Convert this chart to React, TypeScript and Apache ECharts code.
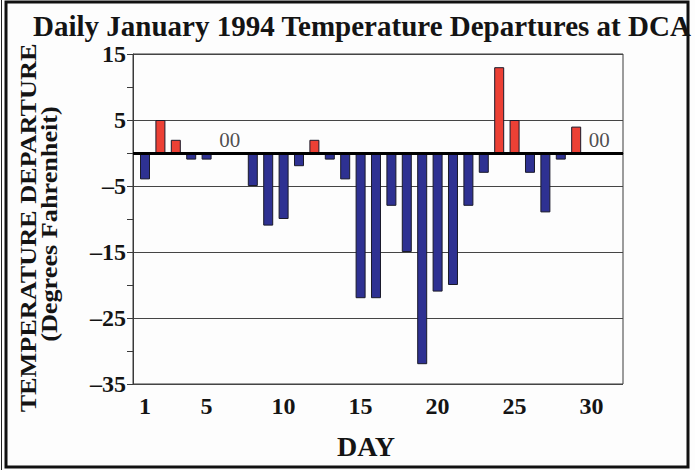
import React, { useEffect, useRef } from "react";
import * as echarts from "echarts";

const titleText = "Daily January 1994 Temperature Departures at DCA";
const yNameLine1 = "TEMPERATURE DEPARTURE";
const yNameLine2 = "(Degrees Fahrenheit)";
const xName = "DAY";

const days = [1,2,3,4,5,6,7,8,9,10,11,12,13,14,15,16,17,18,19,20,21,22,23,24,25,26,27,28,29,30,31];
const departures = [-4,5,2,-1,-1,0,0,-5,-11,-10,-2,2,-1,-4,-22,-22,-8,-15,-32,-21,-20,-8,-3,13,5,-3,-9,-1,4,0,0];
const dayTickLabels = [1,5,10,15,20,25,30];
const zeroPairPositions = [6.5, 30.5];
const zeroPairText = "00";

const SERIF = "'Liberation Serif', 'DejaVu Serif', serif";

export default function App() {
  const ref = useRef<HTMLDivElement>(null);
  useEffect(() => {
    if (!ref.current) return;
    const chart = echarts.init(ref.current, null, { renderer: "svg" });
    const barData = days.map((d, i) => [d, departures[i]]);
    chart.setOption({
      animation: false,
      backgroundColor: "#fdfdfd",
      title: {
        text: titleText,
        left: 28,
        top: 6,
        textStyle: { fontFamily: SERIF, fontWeight: "bold", fontSize: 29, color: "#141414" },
      },
      grid: {
        left: 133,
        right: 72,
        top: 54,
        bottom: 86,
        show: true,
        borderColor: "#3a3a3a",
        borderWidth: 1,
        backgroundColor: "transparent",
      },
      xAxis: {
        type: "value",
        min: 0.22,
        max: 32.04,
        axisLine: { show: true, lineStyle: { color: "#3a3a3a" } },
        axisTick: { show: false },
        splitLine: { show: false },
        axisLabel: {
          customValues: dayTickLabels,
          margin: 10,
          fontFamily: SERIF,
          fontWeight: "bold",
          fontSize: 24,
          color: "#141414",
        },
      },
      yAxis: {
        type: "value",
        min: -35,
        max: 15,
        interval: 10,
        axisLine: { show: true, lineStyle: { color: "#3a3a3a" } },
        axisTick: { show: true, length: 6, lineStyle: { color: "#3a3a3a" } },
        minorTick: { show: true, splitNumber: 2, length: 6, lineStyle: { color: "#3a3a3a" } },
        splitLine: { show: true, lineStyle: { color: "#454545", width: 1 } },
        axisLabel: {
          margin: 7,
          fontFamily: SERIF,
          fontWeight: "bold",
          fontSize: 24,
          color: "#141414",
          formatter: (v: number) => (v < 0 ? "\u2013" + -v : String(v)),
        },
      },
      series: [
        {
          type: "bar",
          data: barData,
          barWidth: 10,
          itemStyle: {
            color: (p: any) => (p.value[1] > 0 ? "#ec4035" : "#2e3192"),
            borderColor: "#1a1a2a",
            borderWidth: 1,
          },
          markLine: {
            silent: true,
            symbol: "none",
            label: { show: false },
            lineStyle: { color: "#000", width: 3, type: "solid" },
            data: [{ yAxis: 0 }],
          },
          z: 2,
        },
        {
          type: "scatter",
          data: zeroPairPositions.map((x) => [x, 0]),
          symbolSize: 0,
          label: {
            show: true,
            formatter: zeroPairText,
            position: "top",
            distance: 3,
            fontFamily: SERIF,
            fontSize: 21,
            color: "#222",
          },
          z: 3,
        },
      ],
      graphic: [
        {
          type: "rect",
          shape: { x: 6, y: 2, width: 682, height: 465 },
          style: { fill: "none", stroke: "#111", lineWidth: 3 },
          silent: true,
        },
        {
          type: "line",
          shape: { x1: 1.5, y1: 0, x2: 1.5, y2: 470 },
          style: { stroke: "#222", lineWidth: 1 },
          silent: true,
        },
        {
          type: "text",
          x: 28,
          y: 228,
          rotation: Math.PI / 2,
          scaleX: 1.14,
          style: {
            text: yNameLine1,
            fontFamily: SERIF,
            fontWeight: "bold",
            fontSize: 23,
            fill: "#141414",
            textAlign: "center",
            textVerticalAlign: "middle",
          },
        },
        {
          type: "text",
          x: 49,
          y: 224,
          rotation: Math.PI / 2,
          scaleX: 1.14,
          style: {
            text: yNameLine2,
            fontFamily: SERIF,
            fontWeight: "bold",
            fontSize: 23,
            fill: "#141414",
            textAlign: "center",
            textVerticalAlign: "middle",
          },
        },
        {
          type: "text",
          x: 366,
          y: 446,
          style: {
            text: xName,
            fontFamily: SERIF,
            fontWeight: "bold",
            fontSize: 28,
            fill: "#141414",
            textAlign: "center",
            textVerticalAlign: "middle",
          },
        },
      ],
    });
    return () => chart.dispose();
  }, []);
  return (
    <div
      ref={ref}
      style={{ position: "fixed", left: 0, top: 0, width: 695, height: 470 }}
    />
  );
}
